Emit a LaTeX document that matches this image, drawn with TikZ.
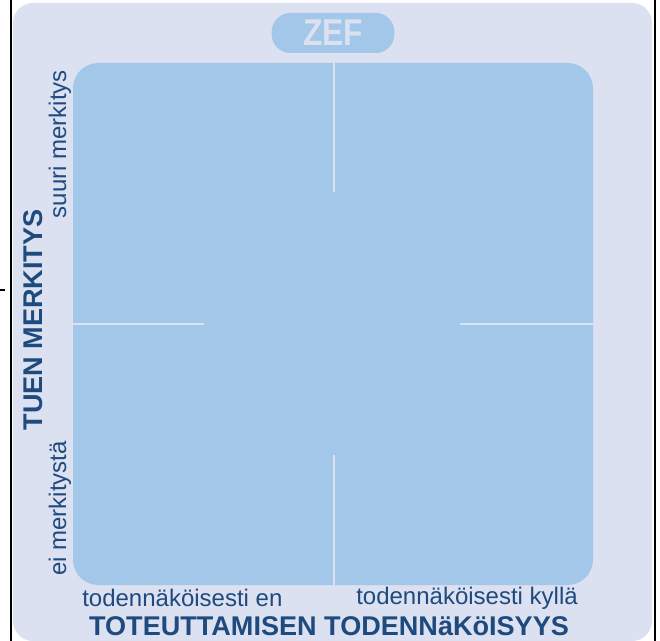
\documentclass[tikz,border=0pt]{standalone}
\usepackage{fontspec}
\setmainfont{Liberation Sans}
\newfontfamily\narrowfont[FakeStretch=0.85]{Liberation Sans}
\usetikzlibrary{positioning, calc}
\definecolor{panelbg}{HTML}{DBE1F0}
\definecolor{fieldblue}{HTML}{A3C7E8}
\definecolor{labelnavy}{HTML}{1F4A7E}

\begin{document}
\begin{tikzpicture}[
  x=0.75pt, y=-0.75pt,
  axis title/.style={font=\fontsize{20.3}{22}\selectfont\bfseries, text=labelnavy, inner sep=0pt},
  axis end/.style={font=\fontsize{18}{19}\selectfont, text=labelnavy, inner sep=0pt},
  divider/.style={draw=panelbg, line width=2.2pt},
]
\useasboundingbox (0,0) rectangle (660,641);

% kehys
\fill[white] (0,0) rectangle (660,641);
\draw[black, line width=1.5pt] (11,0) -- (11,641);
\draw[black, line width=1.5pt] (655,0) -- (655,641);
\draw[black, line width=2.2pt] (0,290) -- (5,290);
\fill[panelbg, rounded corners=15pt] (13,3) rectangle (652,641);

% nelikenttä
\fill[fieldblue, rounded corners=19pt] (73,63) rectangle (593,585);
\draw[divider] (334,63) -- (334,192);
\draw[divider] (334,455) -- (334,585);
\draw[divider] (73,324) -- (204,324);
\draw[divider] (460,324) -- (593,324);

% otsikko
\node[fill=fieldblue, rounded corners=14pt, minimum width=92pt, minimum height=30pt,
      text=panelbg, font=\narrowfont\fontsize{28}{29}\selectfont\bfseries, inner sep=0pt] (zef) at (333,33) {ZEF};

% pystyakseli
\node[axis title, rotate=90] (tuki) at (33,320) {TUEN MERKITYS};
\node[axis end, rotate=90, anchor=east] (suuri) at (60,70) {suuri merkitys};
\node[axis end, rotate=90, anchor=west] (ei) at (60,576) {ei merkitystä};

% vaaka-akseli
\node[axis end, anchor=west] (en) at (82,598) {todennäköisesti en};
\node[axis end, anchor=east] (kylla) at (578,598) {todennäköisesti kyllä};
\node[axis title] (toteutus) at (329,626) {TOTEUTTAMISEN TODENNäKöISYYS};
\end{tikzpicture}
\end{document}
